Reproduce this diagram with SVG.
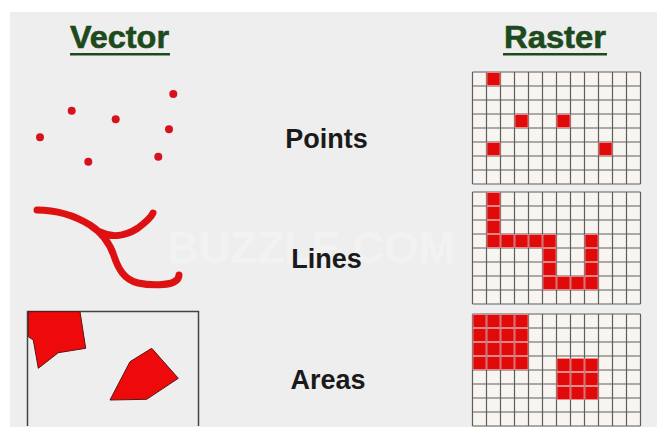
<svg xmlns="http://www.w3.org/2000/svg" xmlns:xlink="http://www.w3.org/1999/xlink" width="657" height="427" viewBox="0 0 657 427">
<style>
.title{font-family:"Liberation Sans",Arial,sans-serif;font-weight:bold;font-size:31px;fill:#1d4a1d;stroke:#1d4a1d;stroke-width:0.6}
.lbl{font-family:"Liberation Sans",Arial,sans-serif;font-weight:bold;font-size:27px;fill:#1a1a1a;text-anchor:middle}
.wm{font-family:"Liberation Sans",Arial,sans-serif;font-weight:bold;font-size:44px;fill:#f2f2f2}
.gridbg{fill:#f8f5f1}
.gridln{fill:none;stroke:#5e5e5e;stroke-width:1.2}
.cell{fill:#e00a0a;stroke:#f29090;stroke-width:0.8}
.dot{fill:#d6121c}
.vline{fill:none;stroke:#dd1111;stroke-width:7;stroke-linecap:round;stroke-linejoin:round}
.poly{fill:#ee0a0a;stroke:#5a1414;stroke-width:1}
</style>
<defs>
<g id="grid">
<rect class="gridbg" x="0" y="0" width="168" height="112"/>
<path class="gridln" d="M0 0V112M14 0V112M28 0V112M42 0V112M56 0V112M70 0V112M84 0V112M98 0V112M112 0V112M126 0V112M140 0V112M154 0V112M168 0V112M0 0H168M0 14H168M0 28H168M0 42H168M0 56H168M0 70H168M0 84H168M0 98H168M0 112H168"/>
</g>
<rect id="c" class="cell" x="0.5" y="0.5" width="13" height="13"/>
</defs>
<rect x="0" y="0" width="657" height="427" fill="#ffffff"/>
<rect x="10" y="12" width="647" height="415" fill="#eeeeee"/>
<text class="wm" x="167" y="263">BUZZLE.COM</text>

<g id="vector-title">
<text class="title" x="70" y="48" textLength="99" lengthAdjust="spacingAndGlyphs">Vector</text>
<rect x="70" y="53" width="100" height="2.5" fill="#1d4a1d"/>
</g>
<g id="raster-title">
<text class="title" x="504" y="47.5" textLength="102" lengthAdjust="spacingAndGlyphs">Raster</text>
<rect x="503" y="53" width="104" height="2.5" fill="#1d4a1d"/>
</g>

<g id="vector-points">
<circle class="dot" cx="173.3" cy="94" r="4"/>
<circle class="dot" cx="71.7" cy="110.7" r="4"/>
<circle class="dot" cx="115.7" cy="119.3" r="4"/>
<circle class="dot" cx="40" cy="137.3" r="4"/>
<circle class="dot" cx="169" cy="129.3" r="4"/>
<circle class="dot" cx="88.3" cy="161.7" r="4"/>
<circle class="dot" cx="158.3" cy="156.7" r="4"/>
</g>
<g id="vector-lines">
<path class="vline" d="M37,210 C55,210 72,214 90,225 C104,234 110,244 114,256 C118,268 124,280 138,283 C152,286 168,285 174,282 C178,280 179,277 179,275"/>
<path class="vline" d="M100,232 C112,238 126,236 138,228 C146,222 151,218 153,213"/>
</g>
<g id="vector-areas">
<path d="M27.5,426 V311.5 H198.5 V426" fill="none" stroke="#444444" stroke-width="1.5"/>
<polygon class="poly" points="28.3,311.7 80,311.7 85.7,348.3 58.3,352.7 38.3,368.3 33.3,340 28.3,336.7"/>
<polygon class="poly" points="151.7,348.3 178.3,378.3 146.7,399.3 110,400 130,361.7"/>
</g>

<g id="label-points"><text class="lbl" x="326.5" y="148">Points</text></g>
<g id="label-lines"><text class="lbl" x="326.5" y="268">Lines</text></g>
<g id="label-areas"><text class="lbl" x="328" y="389">Areas</text></g>

<g id="raster-points">
<use xlink:href="#grid" x="472.5" y="72"/>
<use xlink:href="#c" x="486.5" y="72"/>
<use xlink:href="#c" x="514.5" y="114"/>
<use xlink:href="#c" x="556.5" y="114"/>
<use xlink:href="#c" x="486.5" y="142"/>
<use xlink:href="#c" x="598.5" y="142"/>
</g>
<g id="raster-lines">
<use xlink:href="#grid" x="472.5" y="192"/>
<use xlink:href="#c" x="486.5" y="192"/>
<use xlink:href="#c" x="486.5" y="206"/>
<use xlink:href="#c" x="486.5" y="220"/>
<use xlink:href="#c" x="486.5" y="234"/>
<use xlink:href="#c" x="500.5" y="234"/>
<use xlink:href="#c" x="514.5" y="234"/>
<use xlink:href="#c" x="528.5" y="234"/>
<use xlink:href="#c" x="542.5" y="234"/>
<use xlink:href="#c" x="542.5" y="248"/>
<use xlink:href="#c" x="542.5" y="262"/>
<use xlink:href="#c" x="542.5" y="276"/>
<use xlink:href="#c" x="556.5" y="276"/>
<use xlink:href="#c" x="570.5" y="276"/>
<use xlink:href="#c" x="584.5" y="276"/>
<use xlink:href="#c" x="584.5" y="262"/>
<use xlink:href="#c" x="584.5" y="248"/>
<use xlink:href="#c" x="584.5" y="234"/>
</g>
<g id="raster-areas">
<use xlink:href="#grid" x="472.5" y="314"/>
<use xlink:href="#c" x="472.5" y="314"/><use xlink:href="#c" x="486.5" y="314"/><use xlink:href="#c" x="500.5" y="314"/><use xlink:href="#c" x="514.5" y="314"/>
<use xlink:href="#c" x="472.5" y="328"/><use xlink:href="#c" x="486.5" y="328"/><use xlink:href="#c" x="500.5" y="328"/><use xlink:href="#c" x="514.5" y="328"/>
<use xlink:href="#c" x="472.5" y="342"/><use xlink:href="#c" x="486.5" y="342"/><use xlink:href="#c" x="500.5" y="342"/><use xlink:href="#c" x="514.5" y="342"/>
<use xlink:href="#c" x="472.5" y="356"/><use xlink:href="#c" x="486.5" y="356"/><use xlink:href="#c" x="500.5" y="356"/><use xlink:href="#c" x="514.5" y="356"/>
<use xlink:href="#c" x="556.5" y="358"/><use xlink:href="#c" x="570.5" y="358"/><use xlink:href="#c" x="584.5" y="358"/>
<use xlink:href="#c" x="556.5" y="372"/><use xlink:href="#c" x="570.5" y="372"/><use xlink:href="#c" x="584.5" y="372"/>
<use xlink:href="#c" x="556.5" y="386"/><use xlink:href="#c" x="570.5" y="386"/><use xlink:href="#c" x="584.5" y="386"/>
</g>
</svg>
